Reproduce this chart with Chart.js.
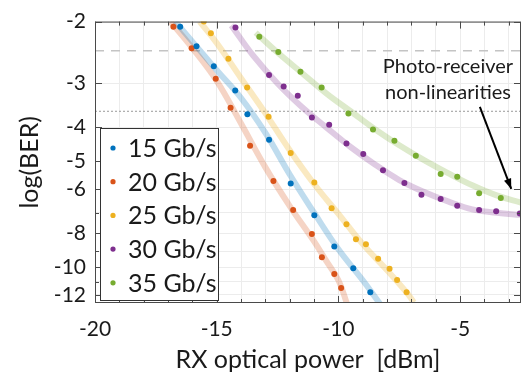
<!DOCTYPE html>
<html>
<head>
<meta charset="utf-8">
<script src="https://cdn.jsdelivr.net/npm/chart.js@4"></script>
<style>
  html, body { margin: 0; padding: 0; background: #fff; }
  #wrap { width: 525px; height: 381px; }
</style>
</head>
<body>
<div id="wrap"><canvas id="berChart" width="525" height="381"></canvas></div>
<script>
// series names + colours
const rates = ["15 Gb/s", "20 Gb/s", "25 Gb/s", "30 Gb/s", "35 Gb/s"];
const colors = ["#0072BD", "#D95319", "#EDB120", "#7E2F8E", "#77AC30"];
const fitColors = ["rgba(0,114,189,0.25)", "rgba(217,83,25,0.25)", "rgba(237,177,32,0.28)", "rgba(126,47,142,0.25)", "rgba(119,172,48,0.25)"];

// measured points: RX optical power [dBm] / log(BER)
const power15 = [-16.50, -15.83, -15.12, -14.24, -13.74, -12.85, -11.96, -10.99, -10.17, -9.39, -8.69];
const logBer15 = [-2.07, -2.35, -2.68, -3.14, -3.67, -4.34, -5.78, -7.12, -8.73, -10.07, -11.79];
const power20 = [-16.78, -16.03, -15.04, -14.43, -13.63, -12.67, -11.86, -11.09, -10.68, -10.17, -9.89];
const logBer20 = [-2.07, -2.38, -2.91, -3.52, -4.51, -5.69, -6.88, -8.05, -9.38, -10.46, -11.46];
const power25 = [-15.53, -15.24, -14.52, -13.75, -12.87, -11.96, -10.99, -10.28, -9.67, -9.28, -8.87, -8.37, -7.90, -7.59, -7.20];
const logBer25 = [-2.0, -2.16, -2.55, -3.08, -3.73, -4.73, -5.74, -6.80, -7.55, -8.33, -8.61, -9.47, -10.11, -10.88, -11.79];
const power30 = [-14.23, -12.85, -12.25, -11.67, -11.09, -10.38, -9.67, -8.98, -8.17, -7.29, -6.59, -5.80, -5.12, -4.22, -3.52, -2.55];
const logBer30 = [-2.08, -2.84, -3.06, -3.25, -3.75, -3.93, -4.45, -4.76, -5.30, -5.76, -6.22, -6.40, -6.69, -6.88, -6.93, -7.04];
const power35 = [-13.25, -12.47, -11.56, -10.69, -9.59, -8.58, -7.70, -6.82, -5.80, -5.12, -4.22, -3.33];
const logBer35 = [-2.21, -2.44, -2.78, -3.08, -3.65, -4.06, -4.37, -4.82, -5.43, -5.53, -6.16, -6.36];

// fitted curves (thick pale lines)
const fitPower15 = [-16.7, -16, -15, -14, -13, -12, -11, -10, -9, -8.3];
const fitLogBer15 = [-2.0, -2.28, -2.75, -3.3, -4.15, -5.45, -7.0, -8.9, -10.9, -12.7];
const fitPower20 = [-16.9, -16, -15, -14, -13, -12, -11, -10.5, -10, -9.65];
const fitLogBer20 = [-2.0, -2.38, -2.95, -3.9, -5.2, -6.7, -8.45, -9.6, -10.9, -12.7];
const fitPower25 = [-15.7, -15, -14, -13, -12, -11, -10, -9, -8, -7.2, -6.9];
const fitLogBer25 = [-2.0, -2.3, -2.9, -3.65, -4.65, -5.8, -7.05, -8.6, -10.2, -11.8, -12.6];
const fitPower30 = [-14.4, -13.5, -12.5, -11.5, -10.5, -9.5, -8.5, -7.5, -6.5, -5.5, -4.5, -3.5, -2.5];
const fitLogBer30 = [-2.05, -2.5, -3.0, -3.5, -4.0, -4.55, -5.1, -5.65, -6.1, -6.5, -6.85, -7.0, -7.1];
const fitPower35 = [-13.4, -12.5, -11.5, -10.5, -9.5, -8.5, -7.5, -6.5, -5.5, -4.5, -3.5, -2.5];
const fitLogBer35 = [-2.15, -2.45, -2.8, -3.2, -3.6, -4.05, -4.5, -4.95, -5.4, -5.85, -6.25, -6.55];

// axes
const xTickLabels = [-20, -15, -10, -5];
const yTickLabels = [-2, -3, -4, -5, -6, -8, -10, -12];
const yGrid = [-2, -3, -4, -5, -6, -7, -8, -9, -10, -11, -12];
const fecLevels = [-2.42, -3.6]; // dashed, dotted thresholds

const xMin = -20, xMax = -2.5;
const FONT = "Lato";

const pts = (xs, ys) => xs.map((x, i) => ({ x: x, y: -ys[i] }));

const allPower = [power15, power20, power25, power30, power35];
const allBer = [logBer15, logBer20, logBer25, logBer30, logBer35];
const allFitP = [fitPower15, fitPower20, fitPower25, fitPower30, fitPower35];
const allFitB = [fitLogBer15, fitLogBer20, fitLogBer25, fitLogBer30, fitLogBer35];

const datasets = [];
rates.forEach((r, i) => {
  datasets.push({
    label: r,
    data: pts(allPower[i], allBer[i]),
    showLine: false,
    pointRadius: 3,
    pointBorderWidth: 0,
    pointBackgroundColor: colors[i],
    order: 0,
  });
});
rates.forEach((r, i) => {
  datasets.push({
    label: "fit " + r,
    data: pts(allFitP[i], allFitB[i]),
    showLine: true,
    borderColor: fitColors[i],
    borderWidth: 6,
    pointRadius: 0,
    tension: 0.4,
    order: 2,
  });
});
datasets.push({
  label: "dashed",
  data: [{ x: xMin, y: -fecLevels[0] }, { x: xMax, y: -fecLevels[0] }],
  showLine: true, borderColor: "#c4c4c4", borderWidth: 1.5, borderDash: [9, 7], pointRadius: 0, order: 3,
});
datasets.push({
  label: "dotted",
  data: [{ x: xMin, y: -fecLevels[1] }, { x: xMax, y: -fecLevels[1] }],
  showLine: true, borderColor: "#9a9a9a", borderWidth: 1, borderDash: [2, 2], pointRadius: 0, order: 3,
});

// box, inward ticks, legend, annotation
const frame = {
  id: "frame",
  afterDraw(chart) {
    const { ctx, chartArea: a, scales: { x, y } } = chart;
    ctx.save();
    ctx.strokeStyle = "#4a4a4a";
    ctx.lineWidth = 1;
    ctx.beginPath();
    x.ticks.forEach(t => {
      const px = Math.round(x.getPixelForValue(t.value)) + 0.5;
      const len = xTickLabels.includes(t.value) ? 7 : 4;
      ctx.moveTo(px, a.bottom); ctx.lineTo(px, a.bottom - len);
      ctx.moveTo(px, a.top); ctx.lineTo(px, a.top + len);
    });
    y.ticks.forEach(t => {
      const py = Math.round(y.getPixelForValue(t.value)) + 0.5;
      const len = yTickLabels.includes(-t.value) ? 7 : 4;
      ctx.moveTo(a.left, py); ctx.lineTo(a.left + len, py);
      ctx.moveTo(a.right, py); ctx.lineTo(a.right - len, py);
    });
    ctx.stroke();
    ctx.strokeRect(a.left + 0.5, a.top + 0.5, a.width - 1, a.height - 1);

    // legend
    const bx = a.left + 5, by = 128, bw = 118, bh = 172;
    ctx.fillStyle = "#fff";
    ctx.fillRect(bx, by, bw, bh);
    ctx.strokeStyle = "#333";
    ctx.strokeRect(bx + 0.5, by + 0.5, bw, bh);
    ctx.font = "25px " + FONT;
    ctx.textBaseline = "middle";
    ctx.textAlign = "left";
    rates.forEach((r, i) => {
      const cy = by + 20 + i * 33.7;
      ctx.fillStyle = colors[i];
      ctx.beginPath();
      ctx.arc(bx + 13, cy, 2.6, 0, Math.PI * 2);
      ctx.fill();
      ctx.fillStyle = "#1a1a1a";
      ctx.fillText(r, bx + 28, cy + 1);
    });

    // annotation
    ctx.font = "20px " + FONT;
    ctx.textAlign = "center";
    ctx.fillStyle = "#1a1a1a";
    const tx = x.getPixelForValue(-5.5);
    ctx.fillText("Photo-receiver", tx, y.getPixelForValue(2.68));
    ctx.fillText("non-linearities", tx, y.getPixelForValue(3.18));
    const x0 = x.getPixelForValue(-4.19), y0 = y.getPixelForValue(3.5);
    const x1 = x.getPixelForValue(-2.9), y1 = y.getPixelForValue(5.99);
    ctx.strokeStyle = "#000";
    ctx.lineWidth = 2;
    ctx.beginPath();
    ctx.moveTo(x0, y0); ctx.lineTo(x1, y1);
    ctx.stroke();
    const ang = Math.atan2(y1 - y0, x1 - x0);
    ctx.fillStyle = "#000";
    ctx.beginPath();
    ctx.moveTo(x1, y1);
    ctx.lineTo(x1 - 11 * Math.cos(ang - 0.35), y1 - 11 * Math.sin(ang - 0.35));
    ctx.lineTo(x1 - 11 * Math.cos(ang + 0.35), y1 - 11 * Math.sin(ang + 0.35));
    ctx.closePath();
    ctx.fill();
    ctx.restore();
  },
};

const berCtx = document.getElementById("berChart").getContext("2d");
const berChart = new Chart(berCtx, {
  type: "scatter",
  data: { datasets: datasets },
  options: {
    responsive: false,
    animation: false,
    devicePixelRatio: 1,
    layout: { padding: { top: 11, right: 1, left: 0, bottom: 0 } },
    plugins: {
      legend: { display: false },
      tooltip: { enabled: false },
    },
    scales: {
      x: {
        type: "linear",
        min: xMin,
        max: xMax,
        afterBuildTicks: (s) => {
          const t = [];
          for (let v = -20; v <= -3; v++) t.push({ value: v });
          s.ticks = t;
        },
        afterFit: (s) => { s.height = 78; },
        ticks: {
          autoSkip: false,
          maxRotation: 0,
          padding: 14,
          color: "#1a1a1a",
          font: { family: FONT, size: 21 },
          callback: (v) => (xTickLabels.includes(v) ? String(v) : ""),
        },
        grid: { color: "#ececec", drawTicks: false },
        border: { display: false },
        title: {
          display: true,
          text: "RX optical power  [dBm]",
          color: "#1a1a1a",
          font: { family: FONT, size: 25, lineHeight: 1.2 },
          padding: { top: 0, bottom: 6 },
        },
      },
      y: {
        type: "logarithmic",
        reverse: true,
        min: 2,
        max: 12.65,
        afterBuildTicks: (s) => { s.ticks = yGrid.map(v => ({ value: -v })); },
        afterFit: (s) => { s.width = 95; },
        ticks: {
          autoSkip: false,
          padding: 9,
          color: "#1a1a1a",
          font: { family: FONT, size: 21 },
          callback: (v) => (yTickLabels.includes(-v) ? String(-v) : ""),
        },
        grid: { color: "#ececec", drawTicks: false },
        border: { display: false },
        title: {
          display: true,
          text: "log(BER)",
          color: "#1a1a1a",
          font: { family: FONT, size: 25, lineHeight: 1.2 },
          padding: { top: 15, bottom: 0 },
        },
      },
    },
  },
  plugins: [frame],
});
</script>
</body>
</html>
